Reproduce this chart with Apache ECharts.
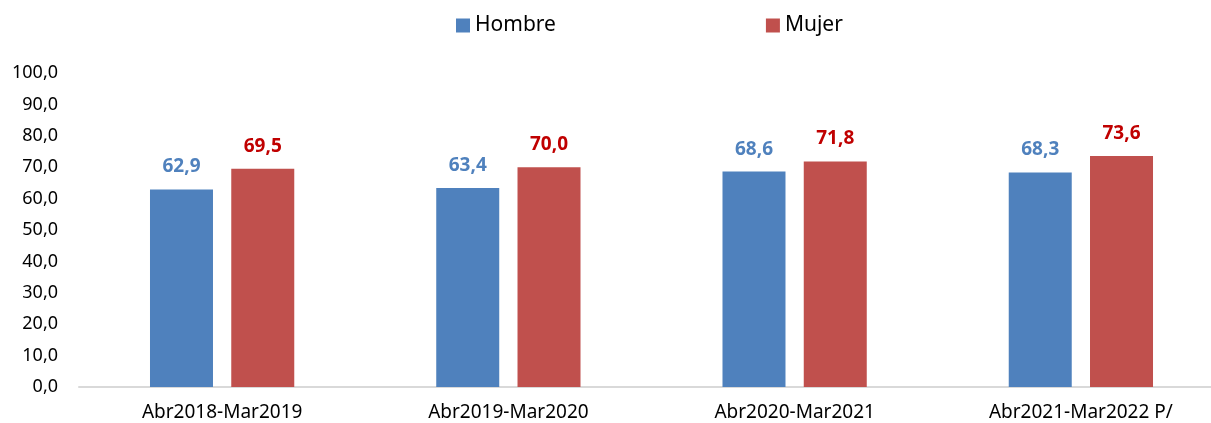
<!DOCTYPE html>
<html><head><meta charset="utf-8">
<script src="https://cdn.jsdelivr.net/npm/echarts@6/dist/echarts.min.js"></script>
<style>html,body{margin:0;padding:0;background:#fff}#c{width:1211px;height:423px}</style>
</head><body><div id="c"></div>
<script>
const categories = ['Abr2018-Mar2019','Abr2019-Mar2020','Abr2020-Mar2021','Abr2021-Mar2022 P/'];
const hombre = [62.9, 63.4, 68.6, 68.3];
const mujer = [69.5, 70.0, 71.8, 73.6];
const seriesNames = ['Hombre','Mujer'];
const fmt = v => v.toFixed(1).replace('.', ',');
const FONT = '"Noto Sans", "Open Sans", sans-serif';
const chart = echarts.init(document.getElementById('c'));
chart.setOption({
  animation: false,
  textStyle: {fontFamily: FONT},
  legend: {
    top: 10, left: 451, itemWidth: 14, itemHeight: 14, itemGap: 210,
    icon: 'rect',
    textStyle: {fontSize: 21, color: '#000', fontFamily: FONT},
    data: seriesNames
  },
  grid: {left: 79, width: 1145, top: 73, bottom: 36, containLabel: false, outerBoundsMode: 'none'},
  xAxis: {
    type: 'category', data: categories,
    axisLine: {lineStyle: {color: '#d9d9d9', width: 2}},
    axisTick: {show: false},
    axisLabel: {fontSize: 19, color: '#000', margin: 16, fontFamily: FONT}
  },
  yAxis: {
    type: 'value', min: 0, max: 100, interval: 10,
    splitLine: {show: false},
    axisLine: {show: false}, axisTick: {show: false},
    axisLabel: {fontSize: 18, color: '#000', margin: 21, formatter: v => fmt(v), fontFamily: FONT}
  },
  series: [
    {name: seriesNames[0], type: 'bar', data: hombre, barWidth: 63, barGap: '29%',
     itemStyle: {color: '#4F81BD'},
     label: {show: true, position: 'top', distance: 13, formatter: p => fmt(p.value), fontSize: 19, fontWeight: 'bold', color: '#4F81BD', fontFamily: FONT}},
    {name: seriesNames[1], type: 'bar', data: mujer, barWidth: 63,
     itemStyle: {color: '#C0504D'},
     label: {show: true, position: 'top', distance: 13, formatter: p => fmt(p.value), fontSize: 19, fontWeight: 'bold', color: '#C00000', fontFamily: FONT}}
  ]
});
</script></body></html>
